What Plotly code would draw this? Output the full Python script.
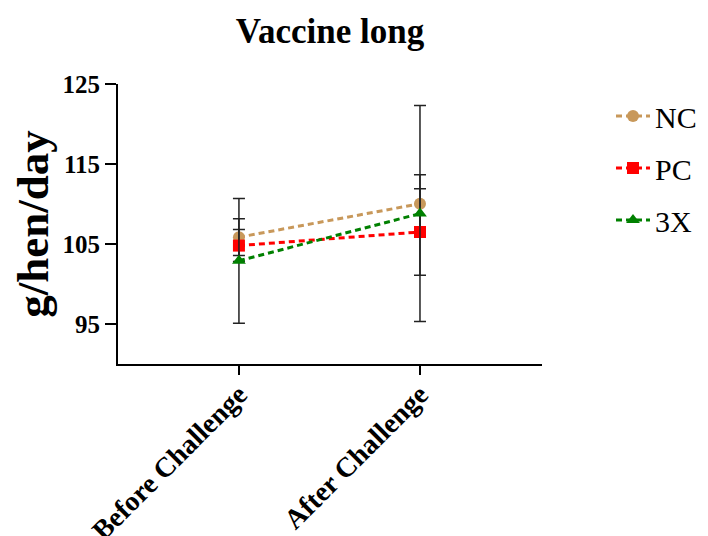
import plotly.graph_objects as go

categories = ["Before Challenge", "After Challenge"]
series_names = ["NC", "PC", "3X"]
nc_mean = [105.85, 110.03]
nc_sd = [2.3, 3.64]
pc_mean = [104.8, 106.5]
pc_sd = [2.0, 5.4]
x3_mean = [102.9, 108.8]
x3_sd = [7.8, 13.5]
y_ticks = [95, 105, 115, 125]

colors = ["#C8985A", "#FF0000", "#008000"]
symbols = ["circle", "square", "triangle-up"]
means = [nc_mean, pc_mean, x3_mean]
sds = [nc_sd, pc_sd, x3_sd]

FONT = "Liberation Serif"

# The page body has an 8px margin, so the figure is 700x528 placed at (8, 8).
W, H = 700, 528

fig = go.Figure()
for i, name in enumerate(series_names):
    fig.add_trace(go.Scatter(
        x=[0, 1], y=means[i], name=name, mode="lines+markers",
        line=dict(color=colors[i], width=3, dash="6px,4px"),
        marker=dict(symbol=symbols[i], size=12, color=colors[i]),
        error_y=dict(type="data", array=sds[i], visible=True,
                     color="#222222", thickness=1.5, width=6),
        legendgroup=name,
    ))

fig.update_layout(
    width=W, height=H,
    margin=dict(l=110, r=166, t=76, b=172),
    plot_bgcolor="white", paper_bgcolor="white",
    font=dict(family=FONT, color="black"),
    title=dict(text="<b>Vaccine long</b>", x=322/W, xanchor="center",
               y=1-23/H, yanchor="middle", font=dict(size=35, family=FONT)),
    showlegend=True,
    legend=dict(xref="container", yref="container", x=603/W, y=1-82/H,
                xanchor="left", yanchor="top", font=dict(size=30, family=FONT),
                tracegroupgap=10, itemwidth=34, bgcolor="rgba(0,0,0,0)"),
)
fig.update_xaxes(
    range=[-0.668, 1.674], tickmode="array", tickvals=[0, 1], ticktext=categories,
    tickangle=-45, showline=True, linecolor="black", linewidth=2,
    ticks="outside", ticklen=9, tickwidth=2, tickcolor="black",
    showgrid=False, zeroline=False, automargin=False, ticklabelstandoff=-8,
    tickfont=dict(size=28, family=FONT, weight="bold"),
)
fig.update_yaxes(
    range=[90, 125], tickmode="array", tickvals=y_ticks,
    showline=True, linecolor="black", linewidth=2,
    ticks="outside", ticklen=11, tickwidth=2, tickcolor="black",
    showgrid=False, zeroline=False, automargin=False,
    tickfont=dict(size=25, family=FONT, weight="bold"),
    title=dict(text="<b>g/hen/day</b>", font=dict(size=45, family=FONT)),
)

fig.write_html("out.html")
